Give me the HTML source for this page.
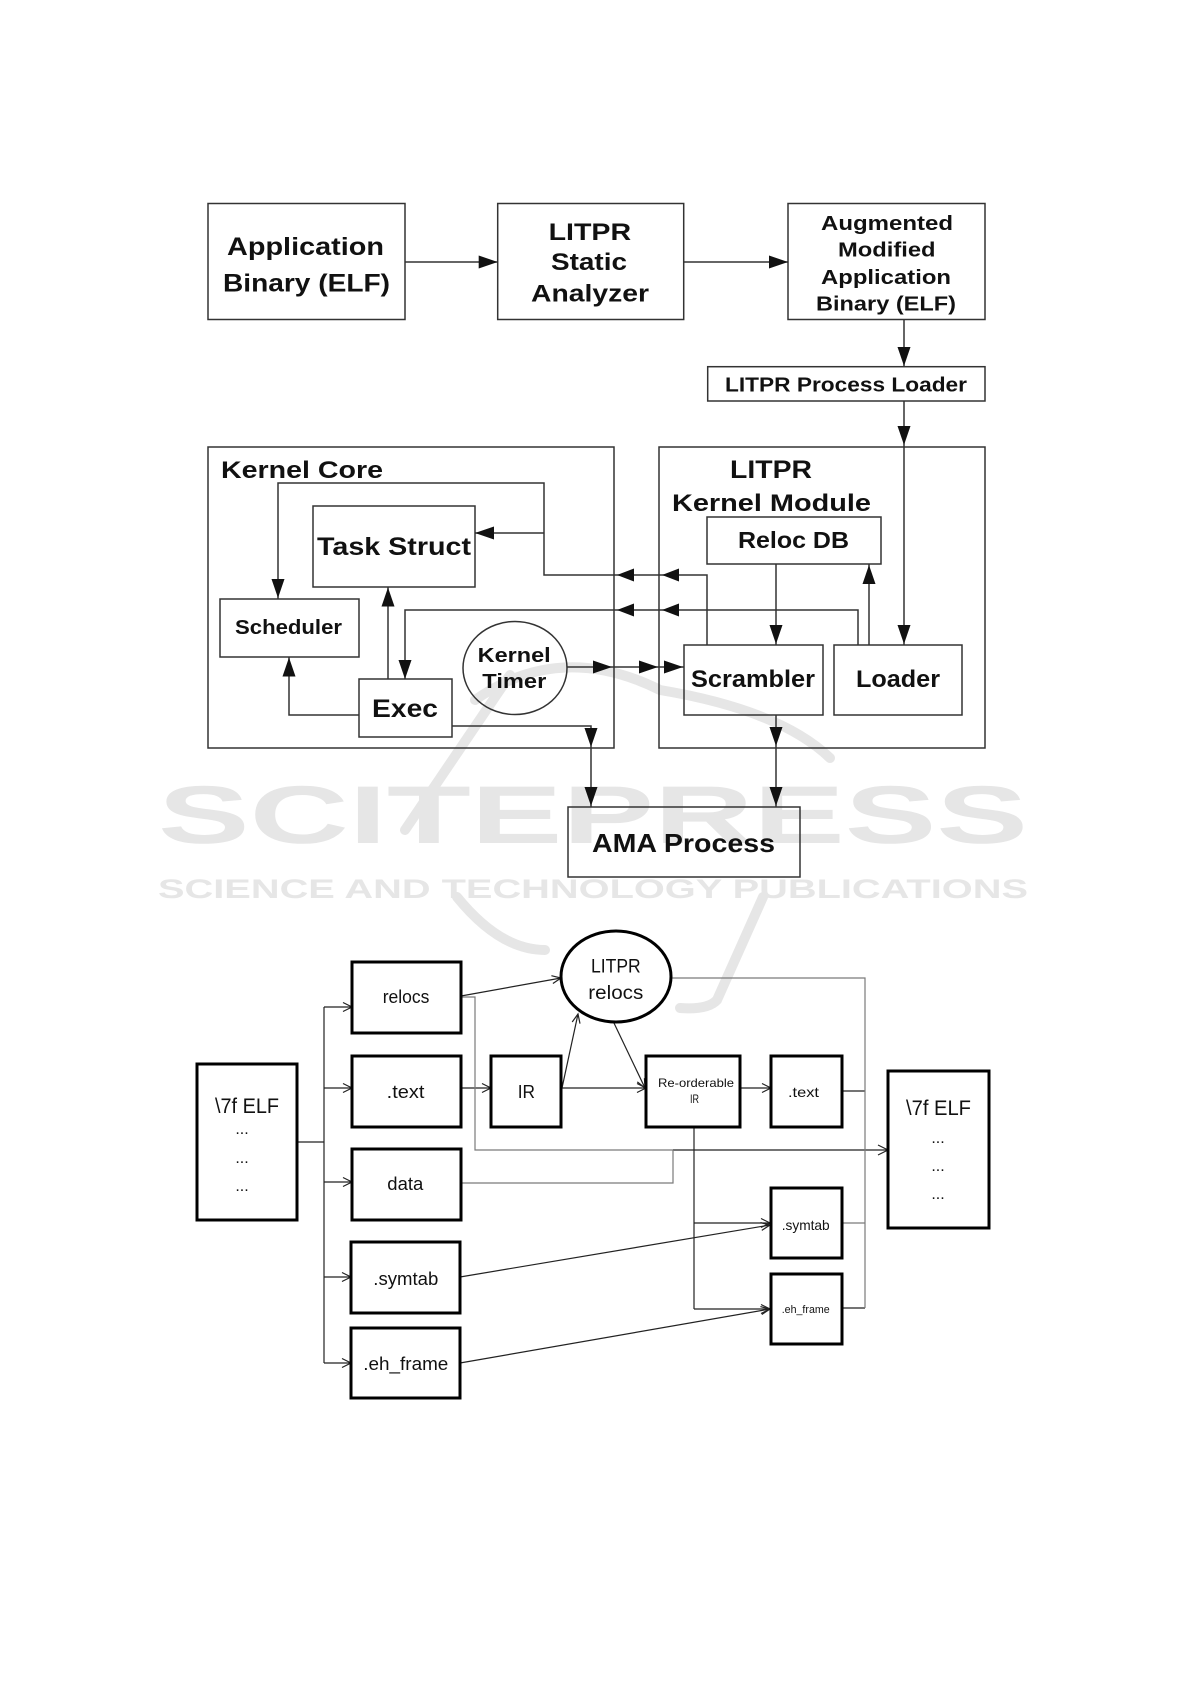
<!DOCTYPE html>
<html>
<head>
<meta charset="utf-8">
<style>
  html,body{margin:0;padding:0;background:#fff;}
  svg{display:block;}
  .b{font-family:"Liberation Sans",Arial,sans-serif;font-weight:bold;fill:#111;}
  .r{font-family:"Liberation Sans","Noto Sans CJK KR",sans-serif;fill:#111;}
  .wm{font-family:"Liberation Sans",sans-serif;font-weight:bold;fill:#e6e6e6;}
</style>
</head>
<body>
<svg width="1191" height="1684" viewBox="0 0 1191 1684" xmlns="http://www.w3.org/2000/svg">
<rect x="0" y="0" width="1191" height="1684" fill="#fff"/>

<!-- Watermark -->
<g fill="none" stroke="#e6e6e6" stroke-width="10" stroke-linecap="round">
  <path d="M510,675 L405,830"/>
  <path d="M475,700 Q560,640 660,690 Q780,710 830,758"/>
  <path d="M457,897 Q500,950 545,950"/>
  <path d="M763,897 L717,1000 Q708,1010 680,1008"/>
</g>
<text class="wm" x="158" y="843" font-size="82" textLength="870" lengthAdjust="spacingAndGlyphs">SCITEPRESS</text>
<text class="wm" x="158" y="898" font-size="27" textLength="870" lengthAdjust="spacingAndGlyphs">SCIENCE AND TECHNOLOGY PUBLICATIONS</text>

<!-- ===== Top diagram ===== -->
<g fill="none" stroke="#333" stroke-width="1.5">
  <rect x="208" y="203.5" width="197" height="116"/>
  <rect x="497.7" y="203.5" width="186" height="116"/>
  <rect x="788" y="203.5" width="197" height="116"/>
  <rect x="707.7" y="366.7" width="277.3" height="34.3"/>
  <rect x="208" y="447" width="406" height="301"/>
  <rect x="659" y="447" width="326" height="301"/>
  <rect x="313" y="506" width="162" height="81"/>
  <rect x="220" y="599" width="139" height="58"/>
  <rect x="359" y="679" width="93" height="58"/>
  <rect x="707" y="517" width="174" height="47"/>
  <rect x="684" y="645" width="139" height="70"/>
  <rect x="834" y="645" width="128" height="70"/>
  <rect x="568" y="807" width="232" height="70"/>
  <ellipse cx="515" cy="668" rx="52" ry="46.5"/>

  <path d="M405,262 H497"/>
  <path d="M683.6,262 H788"/>
  <path d="M904,319.5 V366.7"/>
  <path d="M904,401 V645"/>
  <path d="M707,645 V575 H544 V483 H278 V599"/>
  <path d="M544,533 H475"/>
  <path d="M858,645 V610 H405 V679"/>
  <path d="M388,679 V587"/>
  <path d="M359,715 H289 V657"/>
  <path d="M567,667 H684"/>
  <path d="M452,726 H591 V807"/>
  <path d="M776,564 V645"/>
  <path d="M869,645 V564"/>
  <path d="M776,715 V807"/>
</g>
<g fill="#111" stroke="none">
  <polygon points="478.7,255.5 497.7,262 478.7,268.5"/>
  <polygon points="769,255.5 788,262 769,268.5"/>
  <polygon points="593,660.5 612,667 593,673.5"/>
  <polygon points="639,660.5 658,667 639,673.5"/>
  <polygon points="664,660.5 683,667 664,673.5"/>
  <polygon points="494,526.5 475,533 494,539.5"/>
  <polygon points="634,568.5 617,575 634,581.5"/>
  <polygon points="679,568.5 662,575 679,581.5"/>
  <polygon points="634,603.5 617,610 634,616.5"/>
  <polygon points="679,603.5 662,610 679,616.5"/>
  <polygon points="897.5,347 904,366 910.5,347"/>
  <polygon points="897.5,426 904,445 910.5,426"/>
  <polygon points="897.5,625 904,644 910.5,625"/>
  <polygon points="271.5,579 278,598 284.5,579"/>
  <polygon points="398.5,660 405,679 411.5,660"/>
  <polygon points="584.5,728 591,747 597.5,728"/>
  <polygon points="584.5,787 591,806 597.5,787"/>
  <polygon points="769.5,727 776,746 782.5,727"/>
  <polygon points="769.5,787 776,806 782.5,787"/>
  <polygon points="769.5,625 776,644 782.5,625"/>
  <polygon points="381.5,606.5 388,587.5 394.5,606.5"/>
  <polygon points="282.5,676.5 289,657.5 295.5,676.5"/>
  <polygon points="862.5,584 869,565 875.5,584"/>
</g>

<text class="b" x="227" y="255" font-size="25" textLength="157" lengthAdjust="spacingAndGlyphs">Application</text>
<text class="b" x="223" y="291.7" font-size="25" textLength="167" lengthAdjust="spacingAndGlyphs">Binary (ELF)</text>
<text class="b" x="548.6" y="240" font-size="24" textLength="82.5" lengthAdjust="spacingAndGlyphs">LITPR</text>
<text class="b" x="551" y="270" font-size="24" textLength="76" lengthAdjust="spacingAndGlyphs">Static</text>
<text class="b" x="531" y="301.7" font-size="24" textLength="118" lengthAdjust="spacingAndGlyphs">Analyzer</text>
<text class="b" x="821" y="230" font-size="20.5" textLength="132" lengthAdjust="spacingAndGlyphs">Augmented</text>
<text class="b" x="838" y="256.7" font-size="20.5" textLength="97.5" lengthAdjust="spacingAndGlyphs">Modified</text>
<text class="b" x="821" y="284" font-size="20.5" textLength="130" lengthAdjust="spacingAndGlyphs">Application</text>
<text class="b" x="816" y="310.7" font-size="20.5" textLength="140" lengthAdjust="spacingAndGlyphs">Binary (ELF)</text>
<text class="b" x="725" y="391.7" font-size="20" textLength="242" lengthAdjust="spacingAndGlyphs">LITPR Process Loader</text>
<text class="b" x="221" y="478" font-size="24" textLength="162" lengthAdjust="spacingAndGlyphs">Kernel Core</text>
<text class="b" x="317" y="555" font-size="25" textLength="154" lengthAdjust="spacingAndGlyphs">Task Struct</text>
<text class="b" x="235" y="634" font-size="20.5" textLength="107" lengthAdjust="spacingAndGlyphs">Scheduler</text>
<text class="b" x="372" y="717" font-size="25" textLength="66" lengthAdjust="spacingAndGlyphs">Exec</text>
<text class="b" x="477.7" y="662" font-size="20.5" textLength="73" lengthAdjust="spacingAndGlyphs">Kernel</text>
<text class="b" x="482.3" y="688" font-size="20.5" textLength="64" lengthAdjust="spacingAndGlyphs">Timer</text>
<text class="b" x="730" y="478" font-size="25" textLength="82" lengthAdjust="spacingAndGlyphs">LITPR</text>
<text class="b" x="672" y="511" font-size="24" textLength="199" lengthAdjust="spacingAndGlyphs">Kernel Module</text>
<text class="b" x="738" y="548" font-size="23" textLength="111" lengthAdjust="spacingAndGlyphs">Reloc DB</text>
<text class="b" x="691" y="687" font-size="24" textLength="124" lengthAdjust="spacingAndGlyphs">Scrambler</text>
<text class="b" x="856" y="687" font-size="24" textLength="84" lengthAdjust="spacingAndGlyphs">Loader</text>
<text class="b" x="592" y="852" font-size="26" textLength="183" lengthAdjust="spacingAndGlyphs">AMA Process</text>

<!-- ===== Bottom diagram ===== -->
<g fill="none" stroke="#222" stroke-width="1.2">
  <path d="M297,1142 H324"/>
  <path d="M324,1007 V1363"/>
  <path d="M324,1007 H351"/>
  <path d="M324,1088 H351"/>
  <path d="M324,1182 H351"/>
  <path d="M324,1277 H350"/>
  <path d="M324,1363 H350"/>
  <path d="M461,996 L561,978"/>
  <path d="M461,1088 H491"/>
  <path d="M561,1088 H646"/>
  <path d="M562,1088 L578,1014"/>
  <path d="M613,1021 L645,1088"/>
  <path d="M740,1088 H771"/>
  <path d="M842,1091 H865"/>
  <path d="M694,1127 V1309"/>
  <path d="M694,1223 H770"/>
  <path d="M694,1309 H770"/>
  <path d="M460,1277 L770,1225"/>
  <path d="M460,1363 L770,1309"/>
  <path d="M842,1308 H865"/>
  <path d="M673,1150 H888"/>
</g>
<g fill="none" stroke="#7a7a7a" stroke-width="1.2">
  <path d="M461,997 H475 V1150 H673"/>
  <path d="M461,1183 H673 V1150"/>
  <path d="M671,978 H865 V1308"/>
  <path d="M842,1223 H865"/>
</g>
<g fill="none" stroke="#222" stroke-width="1.2">
  <polyline points="343,1002.5 352,1007 343,1011.5"/>
  <polyline points="343,1083.5 352,1088 343,1092.5"/>
  <polyline points="343,1177.5 352,1182 343,1186.5"/>
  <polyline points="342,1272.5 351,1277 342,1281.5"/>
  <polyline points="342,1358.5 351,1363 342,1367.5"/>
  <polyline points="482,1083.5 491,1088 482,1092.5"/>
  <polyline points="637,1083.5 646,1088 637,1092.5"/>
  <polyline points="762,1083.5 771,1088 762,1092.5"/>
  <polyline points="761,1218.5 770,1223 761,1227.5"/>
  <polyline points="761,1304.5 770,1309 761,1313.5"/>
  <polyline points="878,1145 888,1150 878,1155"/>
  <polyline points="552.9,983.5 561,978 551.4,975.7"/>
  <polyline points="580,1023.6 578,1014 572.2,1022"/>
  <polyline points="644.4,1078.2 645,1088 637.3,1081.9"/>
  <polyline points="761.8,1230.4 770,1225 760.5,1222.6"/>
  <polyline points="761.8,1314.5 770,1309 760.4,1306.6"/>
</g>
<g fill="none" stroke="#000" stroke-width="3">
  <rect x="197" y="1064" width="100" height="156"/>
  <rect x="888" y="1071" width="101" height="157"/>
  <rect x="352" y="962" width="109" height="71"/>
  <rect x="352" y="1056" width="109" height="71"/>
  <rect x="352" y="1149" width="109" height="71"/>
  <rect x="351" y="1242" width="109" height="71"/>
  <rect x="351" y="1328" width="109" height="70"/>
  <rect x="491" y="1056" width="70" height="71"/>
  <rect x="646" y="1056" width="94" height="71"/>
  <rect x="771" y="1056" width="71" height="71"/>
  <rect x="771" y="1188" width="71" height="70"/>
  <rect x="771" y="1274" width="71" height="70"/>
  <ellipse cx="616" cy="976.5" rx="55" ry="45.5"/>
</g>

<text class="r" x="215" y="1113" font-size="21" textLength="64" lengthAdjust="spacingAndGlyphs">\7f ELF</text>
<text class="r" x="242" y="1134" font-size="16" text-anchor="middle">...</text>
<text class="r" x="242" y="1163" font-size="16" text-anchor="middle">...</text>
<text class="r" x="242" y="1191" font-size="16" text-anchor="middle">...</text>

<text class="r" x="906" y="1115" font-size="21" textLength="65" lengthAdjust="spacingAndGlyphs">\7f ELF</text>
<text class="r" x="938" y="1143" font-size="16" text-anchor="middle">...</text>
<text class="r" x="938" y="1171" font-size="16" text-anchor="middle">...</text>
<text class="r" x="938" y="1199" font-size="16" text-anchor="middle">...</text>

<text class="r" x="382.7" y="1003" font-size="18" textLength="46.7" lengthAdjust="spacingAndGlyphs">relocs</text>
<text class="r" x="386.7" y="1098" font-size="18" textLength="37.7" lengthAdjust="spacingAndGlyphs">.text</text>
<text class="r" x="387.3" y="1190" font-size="18" textLength="36" lengthAdjust="spacingAndGlyphs">data</text>
<text class="r" x="373.3" y="1285" font-size="18" textLength="65" lengthAdjust="spacingAndGlyphs">.symtab</text>
<text class="r" x="363.3" y="1370" font-size="18" textLength="85" lengthAdjust="spacingAndGlyphs">.eh_frame</text>
<text class="r" x="517.7" y="1098" font-size="18" textLength="17.3" lengthAdjust="spacingAndGlyphs">IR</text>
<text class="r" x="591" y="972.7" font-size="19" textLength="49.7" lengthAdjust="spacingAndGlyphs">LITPR</text>
<text class="r" x="588.3" y="999" font-size="19" textLength="55" lengthAdjust="spacingAndGlyphs">relocs</text>
<text class="r" x="658" y="1087" font-size="12" textLength="76" lengthAdjust="spacingAndGlyphs">Re-orderable</text>
<text class="r" x="690" y="1103" font-size="12" textLength="9" lengthAdjust="spacingAndGlyphs">IR</text>
<text class="r" x="788" y="1097" font-size="14" textLength="31" lengthAdjust="spacingAndGlyphs">.text</text>
<text class="r" x="781.7" y="1230" font-size="14" textLength="48" lengthAdjust="spacingAndGlyphs">.symtab</text>
<text class="r" x="781.7" y="1313" font-size="11" textLength="48" lengthAdjust="spacingAndGlyphs">.eh_frame</text>
</svg>
</body>
</html>
